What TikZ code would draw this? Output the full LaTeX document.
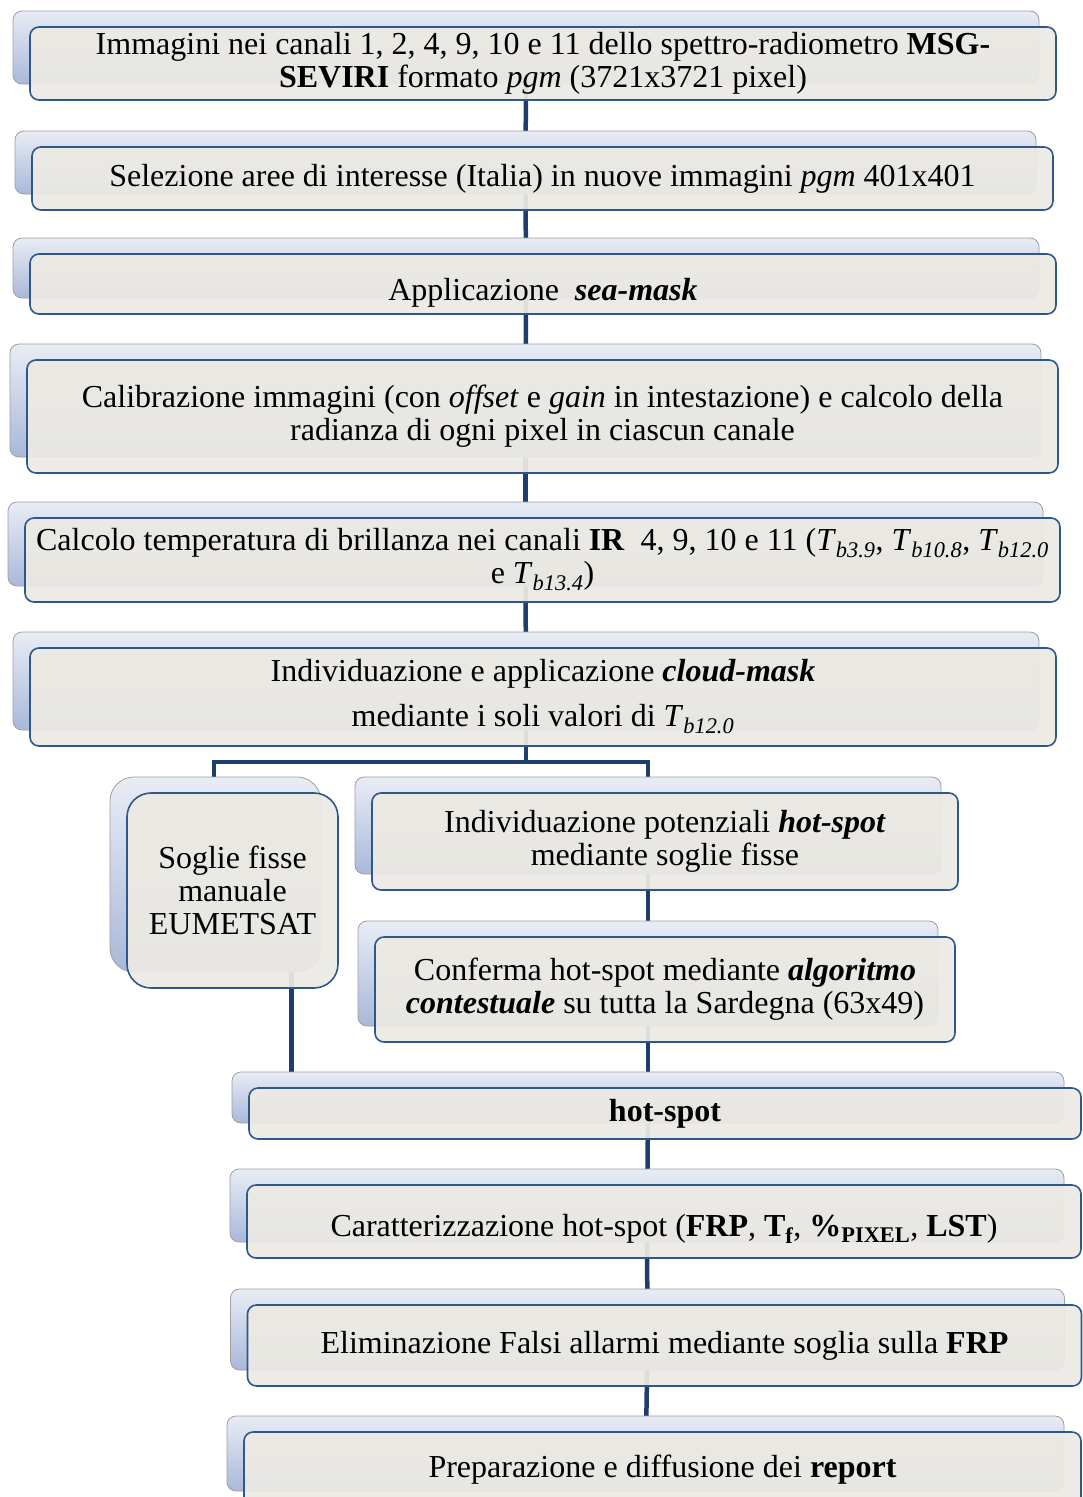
\documentclass[tikz,border=0pt]{standalone}
\usepackage{fontspec}
\setmainfont{Liberation Serif}
\usetikzlibrary{shadows,backgrounds}

\definecolor{linkblue}{HTML}{1F3E6D}
\definecolor{boxedge}{HTML}{2E578A}
\definecolor{boxfill}{HTML}{ECEAE3}
\definecolor{backtop}{HTML}{E8ECF5}
\definecolor{backbot}{HTML}{A9B8DA}

% temperatura di brillanza con pedice
\newcommand{\Tb}[1]{\textit{T}\textsubscript{\textit{#1}}}

\begin{document}
\begin{tikzpicture}[x=1pt, y=-1pt,
    stepbox/.style={draw=boxedge, line width=1.6pt, rounded corners=9pt,
      fill=boxfill, fill opacity=0.93, text opacity=1, align=center,
      inner sep=0pt, font=\fontsize{32}{33}\selectfont,
      copy shadow={shadow xshift=-17pt, shadow yshift=16pt, draw=gray!75,
        line width=0.8pt, fill opacity=1, top color=backtop, bottom color=backbot}},
    link/.style={draw=linkblue, line width=4.5pt}]
  \useasboundingbox (0,0) rectangle (1083,1497);

  % catena principale
  \node[stepbox, minimum width=1026pt, minimum height=73pt] (img) at (543,63.5)
    {Immagini nei canali 1, 2, 4, 9, 10 e 11 dello spettro-radiometro \textbf{MSG-}\\
     \textbf{SEVIRI} formato \textit{pgm} (3721x3721 pixel)};
  \node[stepbox, minimum width=1021pt, minimum height=63pt] (sel) at (542.5,178.5)
    {Selezione aree di interesse (Italia) in nuove immagini \textit{pgm} 401x401};
  \node[stepbox, minimum width=1026pt, minimum height=60pt, text height=32pt, text depth=0pt] (sea) at (543,284)
    {Applicazione\ \ \textbf{\textit{sea-mask}}};
  \node[stepbox, minimum width=1031pt, minimum height=113pt] (cal) at (542.5,416.5)
    {Calibrazione immagini (con \textit{offset} e \textit{gain} in intestazione) e calcolo della\\
     radianza di ogni pixel in ciascun canale};
  \node[stepbox, minimum width=1035pt, minimum height=84pt] (tb) at (542.5,560)
    {Calcolo temperatura di brillanza nei canali \textbf{IR}\ \ 4, 9, 10 e 11 (\Tb{b3.9}, \Tb{b10.8}, \Tb{b12.0}\\
     e \Tb{b13.4})};
  \node[stepbox, minimum width=1026pt, minimum height=98pt] (cloud) at (543,697)
    {Individuazione e applicazione \textbf{\textit{cloud-mask}}\\[12pt]
     mediante i soli valori di \Tb{b12.0}};

  % due rami
  \node[stepbox, rounded corners=24pt, minimum width=211pt, minimum height=195pt] (manual) at (232.5,890.5)
    {Soglie fisse\\manuale\\EUMETSAT};
  \node[stepbox, minimum width=586pt, minimum height=97pt] (cand) at (665,841.5)
    {Individuazione potenziali \textbf{\textit{hot-spot}}\\mediante soglie fisse};
  \node[stepbox, minimum width=580pt, minimum height=105pt] (conf) at (665,989.5)
    {Conferma hot-spot mediante \textbf{\textit{algoritmo}}\\
     \textbf{\textit{contestuale}} su tutta la Sardegna (63x49)};

  % uscita
  \node[stepbox, minimum width=832pt, minimum height=51pt] (hot) at (665,1113.5)
    {\textbf{hot-spot}};
  \node[stepbox, minimum width=834pt, minimum height=73pt, text height=30pt, text depth=0pt] (char) at (664,1221.5)
    {Caratterizzazione hot-spot (\textbf{FRP}, \textbf{T\textsubscript{f}}, \textbf{\%\textsubscript{PIXEL}}, \textbf{LST})};
  \node[stepbox, minimum width=834pt, minimum height=81pt] (elim) at (664.5,1345.5)
    {Eliminazione Falsi allarmi mediante soglia sulla \textbf{FRP}};
  \node[stepbox, minimum width=837pt, minimum height=75pt] (rep) at (662.5,1469.5)
    {Preparazione e diffusione dei \textbf{report}};

  \coordinate (forkL) at (214,762);
  \coordinate (forkR) at (648,762);

  \begin{scope}[on background layer]
    \draw[link] ([xshift=-17pt]img.center) -- ([xshift=-17pt]sel.center);
    \draw[link] ([xshift=-17pt]sel.center) -- ([xshift=-17pt]sea.center);
    \draw[link] ([xshift=-17pt]sea.center) -- ([xshift=-17pt]cal.center);
    \draw[link] ([xshift=-17pt]cal.center) -- ([xshift=-17pt]tb.center);
    \draw[link] ([xshift=-17pt]tb.center) -- ([xshift=-17pt]cloud.center);
    \draw[link] ([xshift=-17pt]cloud.center) |- (forkL) -- (forkL |- manual.center);
    \draw[link] ([xshift=-17pt]cloud.center) |- (forkR) -- (forkR |- cand.center);
    \draw[link] ([xshift=-17pt]cand.center) -- ([xshift=-17pt]conf.center);
    \draw[link] ([xshift=-17pt]conf.center) -- ([xshift=-17pt]hot.center);
    \draw[link] ([xshift=59pt]manual.center) -- ([xshift=59pt]manual.center |- hot.center);
    \draw[link] ([xshift=-17pt]hot.center) -- ([xshift=-17pt]char.center);
    \draw[link] ([xshift=-17pt]char.center) -- ([xshift=-17pt]elim.center);
    \draw[link] ([xshift=-17pt]elim.center) -- ([xshift=-17pt]rep.center);
  \end{scope}
\end{tikzpicture}
\end{document}
